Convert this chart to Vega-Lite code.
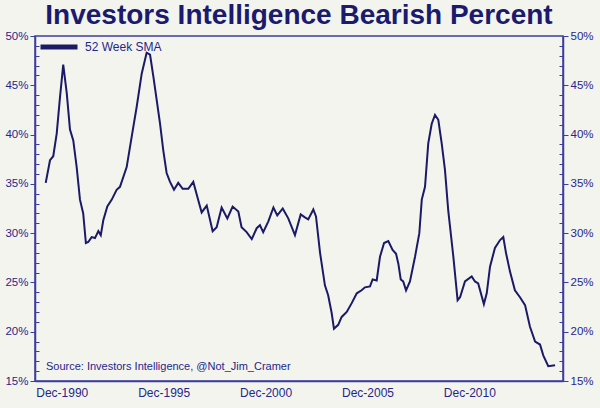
{
  "$schema": "https://vega.github.io/schema/vega-lite/v6.json",
  "autosize": "none",
  "width": 528,
  "height": 345,
  "padding": {"left": 35, "top": 36, "right": 37, "bottom": 27},
  "background": "#f4f4ef",
  "title": {
    "text": "Investors Intelligence Bearish Percent",
    "font": "Liberation Sans",
    "fontSize": 28,
    "fontWeight": "bold",
    "color": "#1a1a6e",
    "anchor": "middle",
    "baseline": "bottom",
    "offset": -32
  },
  "config": {
    "view": {"fill": "#f4f4ef", "stroke": "#3d3d9e", "strokeWidth": 1.5},
    "axis": {
      "labelFont": "Liberation Sans",
      "labelColor": "#26268a",
      "domainColor": "#3d3d9e",
      "tickColor": "#3d3d9e",
      "grid": false,
      "title": null
    },
    "legend": {
      "orient": "none",
      "legendX": 3,
      "legendY": -10,
      "padding": 0,
      "labelFont": "Liberation Sans",
      "labelFontSize": 12,
      "labelColor": "#26268a",
      "symbolType": "stroke",
      "symbolStrokeWidth": 5,
      "symbolSize": 1369,
      "labelOffset": 5
    }
  },
  "data": {
    "values": [
      {"date": "1990-02-16", "sma": 35.1},
      {"date": "1990-05-04", "sma": 37.4},
      {"date": "1990-07-01", "sma": 37.8},
      {"date": "1990-09-01", "sma": 40.1},
      {"date": "1990-10-30", "sma": 43.8},
      {"date": "1990-12-27", "sma": 47.1},
      {"date": "1991-02-28", "sma": 44.2},
      {"date": "1991-04-27", "sma": 40.5},
      {"date": "1991-06-25", "sma": 39.4},
      {"date": "1991-08-25", "sma": 36.7},
      {"date": "1991-10-23", "sma": 33.4},
      {"date": "1991-12-20", "sma": 32.0},
      {"date": "1992-02-06", "sma": 29.0},
      {"date": "1992-03-20", "sma": 29.1},
      {"date": "1992-05-19", "sma": 29.6},
      {"date": "1992-07-18", "sma": 29.5},
      {"date": "1992-09-16", "sma": 30.2},
      {"date": "1992-10-30", "sma": 29.8},
      {"date": "1992-12-14", "sma": 31.3},
      {"date": "1993-02-24", "sma": 32.7},
      {"date": "1993-05-15", "sma": 33.4},
      {"date": "1993-08-10", "sma": 34.4},
      {"date": "1993-10-09", "sma": 34.7},
      {"date": "1994-02-06", "sma": 36.7},
      {"date": "1994-06-06", "sma": 40.8},
      {"date": "1994-08-04", "sma": 42.8},
      {"date": "1994-11-03", "sma": 46.2},
      {"date": "1995-01-30", "sma": 48.3},
      {"date": "1995-04-01", "sma": 48.1},
      {"date": "1995-05-30", "sma": 45.9},
      {"date": "1995-09-27", "sma": 41.1},
      {"date": "1995-11-24", "sma": 38.4},
      {"date": "1996-01-23", "sma": 36.1},
      {"date": "1996-03-24", "sma": 35.2},
      {"date": "1996-06-03", "sma": 34.4},
      {"date": "1996-08-18", "sma": 35.1},
      {"date": "1996-11-06", "sma": 34.5},
      {"date": "1997-02-14", "sma": 34.5},
      {"date": "1997-05-15", "sma": 35.2},
      {"date": "1997-07-26", "sma": 33.7},
      {"date": "1997-10-12", "sma": 32.1},
      {"date": "1998-01-11", "sma": 32.8},
      {"date": "1998-04-27", "sma": 30.2},
      {"date": "1998-07-08", "sma": 30.6},
      {"date": "1998-10-05", "sma": 32.6},
      {"date": "1999-01-15", "sma": 31.5},
      {"date": "1999-04-20", "sma": 32.7},
      {"date": "1999-07-31", "sma": 32.2},
      {"date": "1999-09-27", "sma": 30.6},
      {"date": "1999-12-27", "sma": 30.1},
      {"date": "2000-03-28", "sma": 29.4},
      {"date": "2000-06-24", "sma": 30.5},
      {"date": "2000-08-22", "sma": 30.8},
      {"date": "2000-10-19", "sma": 30.1},
      {"date": "2001-01-19", "sma": 31.2},
      {"date": "2001-04-20", "sma": 32.6},
      {"date": "2001-06-28", "sma": 31.8},
      {"date": "2001-10-04", "sma": 32.5},
      {"date": "2002-01-11", "sma": 31.5},
      {"date": "2002-05-11", "sma": 29.8},
      {"date": "2002-08-22", "sma": 31.9},
      {"date": "2002-11-06", "sma": 31.6},
      {"date": "2003-01-04", "sma": 31.4},
      {"date": "2003-04-05", "sma": 32.4},
      {"date": "2003-05-23", "sma": 31.7},
      {"date": "2003-08-04", "sma": 28.0},
      {"date": "2003-10-30", "sma": 24.7},
      {"date": "2003-12-27", "sma": 23.7},
      {"date": "2004-02-28", "sma": 21.9},
      {"date": "2004-04-09", "sma": 20.3},
      {"date": "2004-06-24", "sma": 20.7},
      {"date": "2004-08-25", "sma": 21.5},
      {"date": "2004-11-24", "sma": 22.0},
      {"date": "2005-02-21", "sma": 22.9},
      {"date": "2005-05-23", "sma": 23.9},
      {"date": "2005-08-18", "sma": 24.2},
      {"date": "2005-10-16", "sma": 24.5},
      {"date": "2006-01-15", "sma": 24.6},
      {"date": "2006-03-03", "sma": 25.3},
      {"date": "2006-05-15", "sma": 25.2},
      {"date": "2006-07-13", "sma": 27.6},
      {"date": "2006-09-24", "sma": 29.0},
      {"date": "2006-12-09", "sma": 29.2},
      {"date": "2007-02-24", "sma": 28.3},
      {"date": "2007-04-27", "sma": 27.9},
      {"date": "2007-06-07", "sma": 26.9},
      {"date": "2007-07-20", "sma": 25.3},
      {"date": "2007-09-02", "sma": 25.1},
      {"date": "2007-10-23", "sma": 24.2},
      {"date": "2008-01-01", "sma": 25.1},
      {"date": "2008-04-01", "sma": 27.6},
      {"date": "2008-06-17", "sma": 30.0},
      {"date": "2008-07-31", "sma": 33.4},
      {"date": "2008-09-27", "sma": 34.7},
      {"date": "2008-11-24", "sma": 39.1},
      {"date": "2009-01-25", "sma": 41.1},
      {"date": "2009-03-25", "sma": 42.0},
      {"date": "2009-05-23", "sma": 41.5},
      {"date": "2009-07-23", "sma": 39.1},
      {"date": "2009-09-20", "sma": 36.4},
      {"date": "2009-11-17", "sma": 32.3},
      {"date": "2010-02-17", "sma": 27.6},
      {"date": "2010-05-04", "sma": 23.2},
      {"date": "2010-06-17", "sma": 23.5},
      {"date": "2010-09-13", "sma": 25.1},
      {"date": "2011-01-12", "sma": 25.6},
      {"date": "2011-03-11", "sma": 25.1},
      {"date": "2011-05-08", "sma": 24.9},
      {"date": "2011-08-18", "sma": 22.8},
      {"date": "2011-10-08", "sma": 23.9},
      {"date": "2011-12-06", "sma": 26.6},
      {"date": "2012-03-03", "sma": 28.5},
      {"date": "2012-06-03", "sma": 29.3},
      {"date": "2012-07-31", "sma": 29.6},
      {"date": "2012-09-17", "sma": 28.0},
      {"date": "2012-11-28", "sma": 26.1},
      {"date": "2013-02-24", "sma": 24.2},
      {"date": "2013-05-26", "sma": 23.5},
      {"date": "2013-08-25", "sma": 22.7},
      {"date": "2013-11-21", "sma": 20.5},
      {"date": "2014-02-21", "sma": 19.0},
      {"date": "2014-05-20", "sma": 18.7},
      {"date": "2014-07-17", "sma": 17.6},
      {"date": "2014-10-15", "sma": 16.5},
      {"date": "2015-02-14", "sma": 16.6}
    ]
  },
  "layer": [
    {
      "mark": {"type": "line", "strokeWidth": 2},
      "encoding": {
        "x": {
          "field": "date",
          "type": "temporal",
          "scale": {"type": "utc", "domain": ["1989-08-08", "2015-07-06"]},
          "axis": {
            "values": ["1990-12-01", "1995-12-01", "2000-12-01", "2005-12-01", "2010-12-01"],
            "format": "%b-%Y",
            "ticks": false,
            "labelFontSize": 12,
            "labelPadding": 6,
            "labelFlush": false,
            "domainWidth": 1.5
          }
        },
        "y": {
          "field": "sma",
          "type": "quantitative",
          "scale": {"domain": [15, 50], "nice": false, "zero": false},
          "axis": {
            "orient": "left",
            "values": [15,16,17,18,19,20,21,22,23,24,25,26,27,28,29,30,31,32,33,34,35,36,37,38,39,40,41,42,43,44,45,46,47,48,49,50],
            "labelExpr": "datum.value % 5 === 0 ? datum.value + '%' : ''",
            "labelFontSize": 11.5,
            "labelOverlap": false,
            "labelFlush": false,
            "labelPadding": 2,
            "tickSize": {"condition": {"test": "datum.value % 5 === 0", "value": 5}, "value": -4},
            "domainWidth": 1.5
          }
        },
        "color": {
          "datum": "52 Week SMA",
          "type": "nominal",
          "scale": {"range": ["#1a1a66"]},
          "legend": {"title": null}
        }
      }
    },
    {
      "data": {"values": [{"note": "Source: Investors Intelligence, @Not_Jim_Cramer"}]},
      "mark": {
        "type": "text",
        "align": "left",
        "baseline": "middle",
        "font": "Liberation Sans",
        "fontSize": 11,
        "color": "#26268a"
      },
      "encoding": {
        "x": {"datum": {"year": 1990, "month": 2, "date": 20, "utc": true}, "type": "temporal"},
        "y": {
          "datum": 16.45,
          "type": "quantitative",
          "axis": {
            "orient": "right",
            "values": [15,16,17,18,19,20,21,22,23,24,25,26,27,28,29,30,31,32,33,34,35,36,37,38,39,40,41,42,43,44,45,46,47,48,49,50],
            "labelExpr": "datum.value % 5 === 0 ? datum.value + '%' : ''",
            "labelFontSize": 11.5,
            "labelOverlap": false,
            "labelFlush": false,
            "labelPadding": 2,
            "tickSize": {"condition": {"test": "datum.value % 5 === 0", "value": 5}, "value": -4},
            "domainWidth": 1.5
          }
        },
        "text": {"field": "note", "type": "nominal"}
      }
    }
  ],
  "resolve": {"axis": {"y": "independent"}}
}
